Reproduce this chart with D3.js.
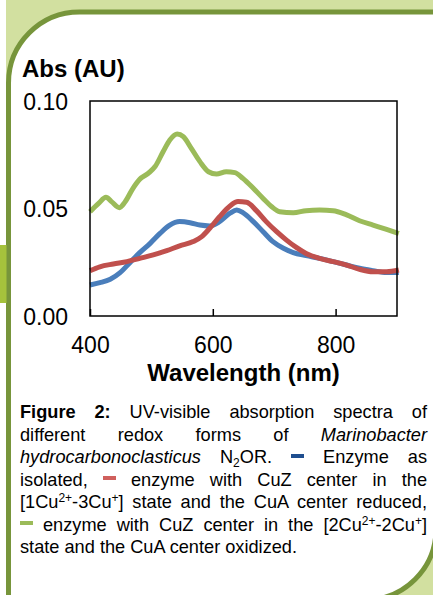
<!DOCTYPE html>
<meta charset="utf-8">
<html lang="en">
<head>
<title>UV-visible absorption spectra</title>
<script src="https://d3js.org/d3.v7.min.js"></script>
<style>
  body { margin: 0; background: #fff; }
  #wrap { position: relative; width: 433px; height: 595px; overflow: hidden; font-family: "Liberation Sans", Arial, sans-serif; }
  #wrap svg { position: absolute; left: 0; top: 0; }
  #caption { position: absolute; left: 20px; top: 401px; width: 407px; font-size: 18.2px; line-height: 22.5px; color: #000; }
  #caption .ln { text-align: justify; text-align-last: justify; white-space: nowrap; }
  #caption .ln.last { text-align-last: left; }
  #caption sup, #caption sub { font-size: 0.66em; line-height: 0; position: relative; vertical-align: baseline; }
  #caption sup { top: -0.5em; }
  #caption sub { top: 0.3em; }
  .dash { display: inline-block; width: 13px; height: 4px; vertical-align: 0.28em; }
</style>
</head>
<body>
<div id="wrap"></div>
<script>
// wavelengths (nm) and absorbance (AU)
var blueWl  = [400, 416, 433, 449, 465, 481, 498, 514, 530, 546, 563, 579, 595, 611, 628, 639, 649, 666, 682, 698, 715, 731, 752, 774, 796, 818, 839, 861, 883, 903]
var blueAbs = [0.0144, 0.0155, 0.0171, 0.0202, 0.0248, 0.0295, 0.0338, 0.0384, 0.0423, 0.0439, 0.0434, 0.0423, 0.0419, 0.0439, 0.0478, 0.0493, 0.0481, 0.0439, 0.0392, 0.0346, 0.0315, 0.0295, 0.0281, 0.0268, 0.0253, 0.0237, 0.0222, 0.0211, 0.0202, 0.0202]

var redWl  = [400, 416, 438, 460, 481, 503, 525, 546, 568, 582, 595, 611, 628, 641, 655, 671, 687, 704, 720, 736, 752, 774, 796, 818, 839, 861, 883, 903]
var redAbs = [0.0211, 0.0229, 0.0242, 0.0253, 0.0268, 0.0284, 0.0304, 0.0326, 0.0346, 0.0369, 0.0408, 0.0462, 0.0512, 0.0532, 0.0529, 0.0490, 0.0439, 0.0392, 0.0353, 0.0319, 0.0291, 0.0268, 0.0253, 0.0237, 0.0217, 0.0206, 0.0206, 0.0214]

var greenWl  = [400, 414, 426, 435, 448, 457, 470, 481, 495, 506, 519, 530, 542, 552, 565, 579, 593, 606, 622, 636, 649, 666, 682, 696, 709, 731, 752, 774, 796, 818, 839, 861, 883, 903]
var greenAbs = [0.0485, 0.0524, 0.0552, 0.0532, 0.0504, 0.0530, 0.0594, 0.0636, 0.0664, 0.0695, 0.0764, 0.0819, 0.0847, 0.0834, 0.0780, 0.0718, 0.0671, 0.0660, 0.0671, 0.0667, 0.0640, 0.0594, 0.0547, 0.0508, 0.0485, 0.0480, 0.0490, 0.0493, 0.0490, 0.0470, 0.0443, 0.0423, 0.0403, 0.0384]

var xTicks = [400, 600, 800]
var yTicks = [0, 0.05, 0.10]

var series = [
  { name: "as isolated", wl: blueWl, abs: blueAbs, color: "#4a7ebb" },
  { name: "CuZ 1Cu2+-3Cu+, CuA reduced", wl: redWl, abs: redAbs, color: "#c0504d" },
  { name: "CuZ 2Cu2+-2Cu+, CuA oxidized", wl: greenWl, abs: greenAbs, color: "#9bbb59" }
]

var W = 433, H = 595
// plot box edges (not named top/left: those clash with window globals)
var boxL = 90, boxR = 397, boxT = 101, boxB = 316

var svg = d3.select('#wrap').append('svg').attr('width', W).attr('height', H)

// page decoration: light green margin, rounded frame, left tab
svg.append('rect').attr('x', 6).attr('y', 0).attr('width', W - 6).attr('height', H).attr('fill', '#d2e0a0')
var fx0 = 8.5, fy0 = 12, fx1 = 436, fy1 = 600, r = 71
svg.append('path')
  .attr('d', 'M' + fx0 + ',' + (fy0 + r) + ' A' + r + ',' + r + ' 0 0 1 ' + (fx0 + r) + ',' + fy0 +
    ' L' + fx1 + ',' + fy0 + ' L' + fx1 + ',' + (fy1 - r) +
    ' A' + r + ',' + r + ' 0 0 1 ' + (fx1 - r) + ',' + fy1 +
    ' L' + fx0 + ',' + fy1 + ' Z')
  .attr('fill', '#fff')
  .attr('stroke', '#77953b')
  .attr('stroke-width', 5)
svg.append('rect').attr('x', 0).attr('y', 245).attr('width', 6.5).attr('height', 58).attr('fill', '#a5c23c')

var x = d3.scaleLinear().domain([400, 900]).range([boxL, boxR])
var y = d3.scaleLinear().domain([0, 0.10]).range([boxB, boxT])

var line = d3.line()
  .x(function (d) { return x(d[0]) })
  .y(function (d) { return y(d[1]) })
  .curve(d3.curveMonotoneX)

svg.append('g').selectAll('path')
  .data(series)
  .enter().append('path')
    .attr('d', function (s) { return line(d3.zip(s.wl, s.abs)) })
    .attr('fill', 'none')
    .attr('stroke', function (s) { return s.color })
    .attr('stroke-width', 5)

// plot box
svg.append('rect')
  .attr('x', boxL).attr('y', boxT)
  .attr('width', boxR - boxL).attr('height', boxB - boxT)
  .attr('fill', 'none').attr('stroke', '#000').attr('stroke-width', 1.5)

var xAxis = svg.append('g')
  .attr('transform', 'translate(0,' + boxB + ')')
  .call(d3.axisBottom(x).tickValues(xTicks).tickSize(-7).tickPadding(21).tickFormat(d3.format('d')))
xAxis.select('.domain').remove()
xAxis.selectAll('line').attr('stroke', '#000').attr('stroke-width', 1.5)
xAxis.selectAll('text').attr('font-size', 23).attr('font-family', '"Liberation Sans", Arial, sans-serif').attr('fill', '#000')

var yAxis = svg.append('g')
  .attr('transform', 'translate(' + boxL + ',0)')
  .call(d3.axisLeft(y).tickValues(yTicks).tickSize(0).tickPadding(22).tickFormat(d3.format('.2f')))
yAxis.select('.domain').remove()
yAxis.selectAll('text').attr('font-size', 23).attr('dy', '0.36em').attr('font-family', '"Liberation Sans", Arial, sans-serif').attr('fill', '#000')

svg.append('text')
  .attr('x', 22).attr('y', 76.5)
  .attr('font-size', 24).attr('font-weight', 'bold')
  .attr('font-family', '"Liberation Sans", Arial, sans-serif')
  .text('Abs (AU)')

svg.append('text')
  .attr('x', (boxL + boxR) / 2).attr('y', 380.5)
  .attr('text-anchor', 'middle')
  .attr('font-size', 24).attr('font-weight', 'bold')
  .attr('font-family', '"Liberation Sans", Arial, sans-serif')
  .text('Wavelength (nm)')

// caption, one justified line per div
var dash = function (c) { return '<span class="dash" style="background:' + c + '"></span>' }
var captionLines = [
  '<b>Figure 2:</b> UV-visible absorption spectra of',
  'different redox forms of <i>Marinobacter</i>',
  '<i>hydrocarbonoclasticus</i> N<sub>2</sub>OR. ' + dash('#1f4e8f') + ' Enzyme as',
  'isolated, ' + dash('#d0605d') + ' enzyme with CuZ center in the',
  '[1Cu<sup>2+</sup>-3Cu<sup>+</sup>] state and the CuA center reduced,',
  dash('#9bbb59') + ' enzyme with CuZ center in the [2Cu<sup>2+</sup>-2Cu<sup>+</sup>]',
  'state and the CuA center oxidized.'
]
d3.select('#wrap').append('div').attr('id', 'caption')
  .selectAll('div')
  .data(captionLines)
  .enter().append('div')
    .attr('class', function (d, i) { return i === captionLines.length - 1 ? 'ln last' : 'ln' })
    .html(function (d) { return d })
</script>
</body>
</html>
